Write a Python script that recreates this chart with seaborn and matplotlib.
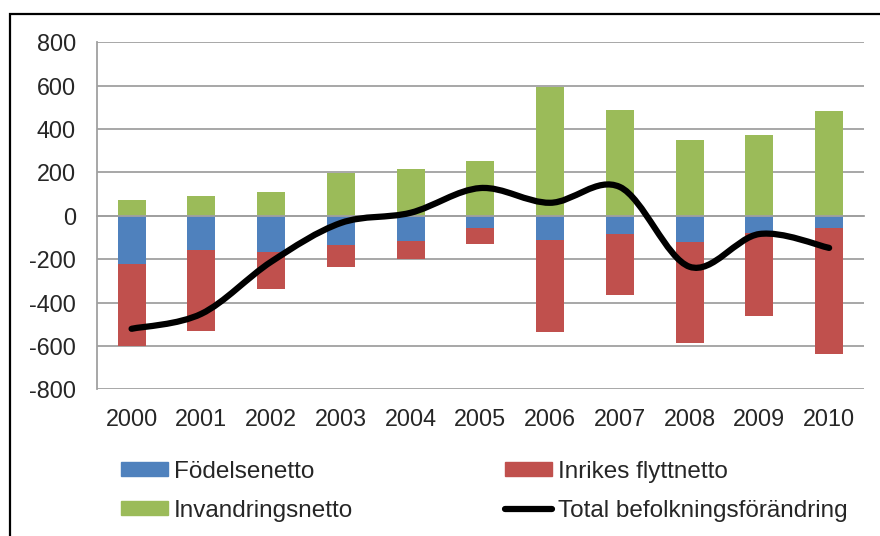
import numpy as np
import pandas as pd
import seaborn as sb
import matplotlib.pyplot as plt
from matplotlib.path import Path
from matplotlib.patches import PathPatch, Patch, Rectangle
from matplotlib.lines import Line2D

# values
years = ['2000', '2001', '2002', '2003', '2004', '2005', '2006', '2007', '2008', '2009', '2010']
fodelsenetto = [-221, -157, -165, -134, -114, -57, -111, -83, -123, -80, -58]
inrikes_flyttnetto = [-379, -375, -173, -104, -87, -74, -423, -280, -463, -381, -577]
invandringsnetto = [74, 89, 111, 197, 214, 252, 592, 486, 351, 374, 484]
total = [-521, -452, -212, -33, 14, 128, 60, 133, -235, -84, -148]

blue = '#4F81BD'
red = '#C0504D'
green = '#9BBB59'
grey = '#A0A0A0'
fs = 16.8
fs_leg = 17.5

sb.set_style('white')
plt.rcParams['font.family'] = ['Liberation Sans', 'DejaVu Sans']
plt.rcParams['axes.unicode_minus'] = False

fig = plt.figure(figsize=(8.8, 5.36), dpi=100)
ax = fig.add_axes([96.7 / 880, 1 - 389.3 / 536, (864 - 96.7) / 880, (389.3 - 42.3) / 536])

df = pd.DataFrame({'year': years, 'fod': fodelsenetto, 'inr': inrikes_flyttnetto,
                   'inv': invandringsnetto, 'total': total})

sb.barplot(data=df, x='year', y='inv', color=green, saturation=1, width=0.4,
           errorbar=None, linewidth=0, ax=ax, zorder=3)
sb.barplot(data=df, x='year', y='fod', color=blue, saturation=1, width=0.4,
           errorbar=None, linewidth=0, ax=ax, zorder=3)
sb.barplot(data=df, x='year', y='inr', bottom=df['fod'], color=red, saturation=1, width=0.4,
           errorbar=None, linewidth=0, ax=ax, zorder=3)

# smoothed total line (bezier through the data points, like excel's smoothed line)
pts = np.column_stack([np.arange(len(years)), np.array(total, dtype=float)])
padded = np.vstack([pts[0], pts, pts[-1]])
verts = [pts[0]]
codes = [Path.MOVETO]
for i in range(len(pts) - 1):
    p0, p1, p2, p3 = padded[i], padded[i + 1], padded[i + 2], padded[i + 3]
    verts += [p1 + (p2 - p0) / 6, p2 - (p3 - p1) / 6, p2]
    codes += [Path.CURVE4] * 3
ax.add_patch(PathPatch(Path(verts, codes), fill=False, lw=4.5, edgecolor='black',
                       capstyle='round', joinstyle='round', zorder=5))

ax.set(xlabel='', ylabel='')
ax.set_xlim(-0.5, len(years) - 0.5)
ax.set_ylim(-800, 800)
ax.set_yticks(range(-800, 801, 200))
ax.yaxis.grid(True, color=grey, lw=1.3)
ax.set_axisbelow(True)
for side in ['top', 'right']:
    ax.spines[side].set_visible(False)
ax.spines['left'].set_color(grey)
ax.spines['left'].set_linewidth(1.3)
ax.spines['bottom'].set_position(('data', 0))
ax.spines['bottom'].set_color(grey)
ax.spines['bottom'].set_linewidth(1.3)
ax.spines['bottom'].set_zorder(4)
ax.set_xticks(np.arange(-0.5, len(years), 1.0))
ax.tick_params(axis='x', direction='out', length=6, width=1.3, color=grey, labelbottom=False)
ax.tick_params(axis='y', direction='out', length=6, width=1.3, color=grey, labelsize=fs, pad=9)

sec = ax.secondary_xaxis(0)
sec.set_xticks(range(len(years)), labels=years)
sec.tick_params(length=0, labelsize=fs, pad=13.5)
sec.spines['bottom'].set_visible(False)

handles = [Patch(color=blue, label='Födelsenetto'),
           Patch(color=green, label='Invandringsnetto'),
           Patch(color=red, label='Inrikes flyttnetto'),
           Line2D([], [], color='black', lw=4.5, solid_capstyle='round',
                  label='Total befolkningsförändring')]
fig.legend(handles=handles, ncol=2, loc='upper left', bbox_to_anchor=(121 / 880, 1 - 461 / 536),
           frameon=False, fontsize=fs_leg, handlelength=1.93, handleheight=0.5, handletextpad=0.25,
           columnspacing=6.25, labelspacing=0.68, borderpad=0, borderaxespad=0)

# outer frame (only left and top edge visible in the reference)
fig.patches.append(Rectangle((10 / 880, -0.2), 1.5, 1.2 - 14 / 536, transform=fig.transFigure,
                             fill=False, lw=1.6, edgecolor='black'))

fig.savefig('out.png', dpi=100)
